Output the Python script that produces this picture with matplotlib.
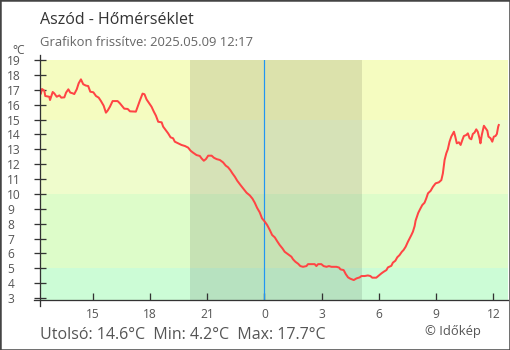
import matplotlib
matplotlib.use('Agg')
import matplotlib.pyplot as plt
from matplotlib.patches import Rectangle

plt.rcParams['font.family'] = ['Open Sans', 'DejaVu Sans']

# hours counted from midnight of the previous day (24 = 0:00 on the day)
hours = [12.28, 12.34, 12.46, 12.51, 12.72, 12.76, 12.90, 12.98, 13.11, 13.25,
         13.35, 13.51, 13.60, 13.72, 13.82, 13.95, 14.03, 14.16, 14.26, 14.38,
         14.50, 14.64, 14.76, 14.87, 15.03, 15.17, 15.31, 15.43, 15.57, 15.69,
         15.78, 15.90, 16.04, 16.30, 16.42, 16.57, 16.65, 16.83, 16.95, 17.26,
         17.35, 17.47, 17.61, 17.71, 17.82, 17.96, 18.08, 18.20, 18.31, 18.43,
         18.61, 18.69, 18.82, 18.95, 19.08, 19.21, 19.30, 19.48, 19.65, 19.83,
         20.00, 20.13, 20.26, 20.44, 20.61, 20.70, 20.82, 20.93, 21.05, 21.23,
         21.35, 21.49, 21.66, 21.83, 21.97, 22.09, 22.21, 22.32, 22.45, 22.57,
         22.74, 22.92, 23.06, 23.23, 23.37, 23.49, 23.61, 23.75, 23.87, 24.02,
         24.14, 24.28, 24.40, 24.54, 24.66, 24.80, 24.94, 25.06, 25.24, 25.41,
         25.50, 25.62, 25.76, 25.88, 26.02, 26.20, 26.28, 26.46, 26.63, 26.72,
         26.81, 26.98, 27.10, 27.25, 27.38, 27.51, 27.77, 27.91, 27.98, 28.15,
         28.26, 28.38, 28.50, 28.68, 28.82, 28.99, 29.08, 29.25, 29.42, 29.55,
         29.65, 29.86, 30.00, 30.13, 30.25, 30.39, 30.47, 30.65, 30.73, 30.86,
         30.96, 31.08, 31.20, 31.29, 31.40, 31.52, 31.61, 31.70, 31.78, 31.87,
         31.92, 31.99, 32.06, 32.15, 32.27, 32.39, 32.48, 32.57, 32.71, 32.83,
         32.97, 33.14, 33.27, 33.35, 33.44, 33.53, 33.61, 33.70, 33.79, 33.87,
         33.93, 34.00, 34.08, 34.19, 34.28, 34.37, 34.45, 34.58, 34.66, 34.75,
         34.84, 34.92, 35.01, 35.10, 35.18, 35.27, 35.32, 35.39, 35.50, 35.59,
         35.68, 35.74, 35.85, 35.94, 36.02, 36.11, 36.18, 36.25, 36.28]
temps = [16.75, 17.05, 16.94, 16.58, 16.53, 16.31, 16.85, 16.76, 16.53, 16.62,
         16.47, 16.49, 16.81, 17.03, 16.81, 16.76, 16.71, 17.03, 17.43, 17.70,
         17.37, 17.28, 17.25, 16.87, 16.83, 16.58, 16.47, 16.24, 15.93, 15.46,
         15.60, 15.86, 16.24, 16.24, 16.09, 15.86, 15.73, 15.71, 15.55, 15.53,
         15.86, 16.28, 16.74, 16.70, 16.35, 16.09, 15.86, 15.53, 15.26, 14.85,
         14.81, 14.52, 14.29, 14.07, 13.80, 13.74, 13.51, 13.40, 13.29, 13.22,
         13.11, 12.90, 12.77, 12.61, 12.55, 12.39, 12.23, 12.34, 12.57, 12.57,
         12.43, 12.34, 12.28, 12.12, 11.90, 11.79, 11.60, 11.38, 11.15, 10.89,
         10.60, 10.31, 10.08, 9.90, 9.68, 9.41, 9.07, 8.76, 8.36, 8.13,
         7.91, 7.57, 7.24, 7.08, 6.83, 6.56, 6.34, 6.11, 5.94, 5.78,
         5.60, 5.44, 5.31, 5.15, 5.10, 5.15, 5.28, 5.28, 5.28, 5.15,
         5.28, 5.28, 5.15, 5.10, 5.15, 5.10, 5.10, 5.05, 4.93, 4.88,
         4.61, 4.39, 4.30, 4.21, 4.32, 4.39, 4.48, 4.48, 4.52, 4.48,
         4.37, 4.37, 4.52, 4.66, 4.77, 4.88, 5.06, 5.17, 5.38, 5.51,
         5.74, 5.89, 6.11, 6.23, 6.45, 6.79, 7.01, 7.24, 7.46, 7.84,
         8.20, 8.47, 8.73, 8.96, 9.25, 9.41, 9.70, 10.04, 10.21, 10.48,
         10.71, 10.78, 10.93, 11.38, 12.28, 12.73, 13.00, 13.51, 13.85, 14.03,
         14.18, 13.85, 13.40, 13.47, 13.29, 13.62, 13.89, 13.96, 14.07, 13.74,
         13.67, 14.03, 14.12, 14.34, 14.18, 13.74, 13.40, 13.96, 14.58, 14.41,
         14.25, 13.85, 13.74, 13.51, 13.85, 13.89, 14.03, 14.52, 14.63]

tick_hours = [15, 18, 21, 24, 27, 30, 33, 36]
tick_labels = ['15', '18', '21', '0', '3', '6', '9', '12']
y_ticks = list(range(3, 20))

band_edges = [2.89, 5, 10, 15, 19]
band_colors = ['#ccfcd6', '#ddfcc9', '#effccc', '#f5fcc0']
night_start, night_end = 20.08, 29.13
midnight = 24

title = 'Aszód - Hőmérséklet'
subtitle = 'Grafikon frissítve: 2025.05.09 12:17'
footer = 'Utolsó: 14.6°C  Min: 4.2°C  Max: 17.7°C'
credit = '© Időkép'

W, H = 510, 350
fig = plt.figure(figsize=(W / 72, H / 72), dpi=72)
fig.patches.append(Rectangle((0, 0), 1, 1, transform=fig.transFigure,
                             fill=False, edgecolor='#444444', lw=2.5))
ax = fig.add_axes([40.3 / W, 50.3 / H, (508.5 - 40.3) / W, 239.7 / H])

for lo, hi, c in zip(band_edges[:-1], band_edges[1:], band_colors):
    ax.axhspan(lo, hi, color=c, lw=0, zorder=0)
ax.axvspan(night_start, night_end, color='black', alpha=0.1, lw=0, zorder=1)
ax.axvline(midnight, color='#2196f3', lw=1.2, zorder=2)
ax.plot(hours, temps, color='#ff4444', lw=2, zorder=3)

ax.set_xlim(12.25, 36.79)
ax.set_ylim(band_edges[0], band_edges[-1])

for s in ax.spines.values():
    s.set_visible(False)
# axis lines, running a little past the plot corner
ax.plot([0, 0], [-6 / 239.7, 1 + 5 / 239.7], transform=ax.transAxes,
        color='#333333', lw=1.3, clip_on=False, zorder=5)
ax.plot([-6 / 468, 1], [0, 0], transform=ax.transAxes,
        color='#333333', lw=1.3, clip_on=False, zorder=5)

ax.set_yticks(y_ticks)
ax.set_yticklabels([str(v) for v in y_ticks])
ax.tick_params(axis='y', direction='inout', length=12, width=1.3,
               color='#333333', labelcolor='#555555', labelsize=12, pad=27)
for lab in ax.get_yticklabels():
    lab.set_horizontalalignment('left')
ax.set_xticks(tick_hours)
ax.set_xticklabels(tick_labels)
ax.tick_params(axis='x', direction='in', length=7, width=1.3,
               color='#333333', labelcolor='#555555', labelsize=12, pad=8)

fig.text(40 / W, 1 - 24 / H, title, fontsize=16, color='#333333', va='baseline')
fig.text(40 / W, 1 - 45.5 / H, subtitle, fontsize=13, color='#666666', va='baseline')
fig.text(12 / W, 1 - 53.5 / H, '°C', fontsize=12, color='#555555', va='baseline')
fig.text(40 / W, 1 - 339 / H, footer, fontsize=16, color='#555555', va='baseline')
fig.text(425 / W, 1 - 335.5 / H, credit, fontsize=13, color='#555555', va='baseline')

fig.savefig('out.png', dpi=72)
